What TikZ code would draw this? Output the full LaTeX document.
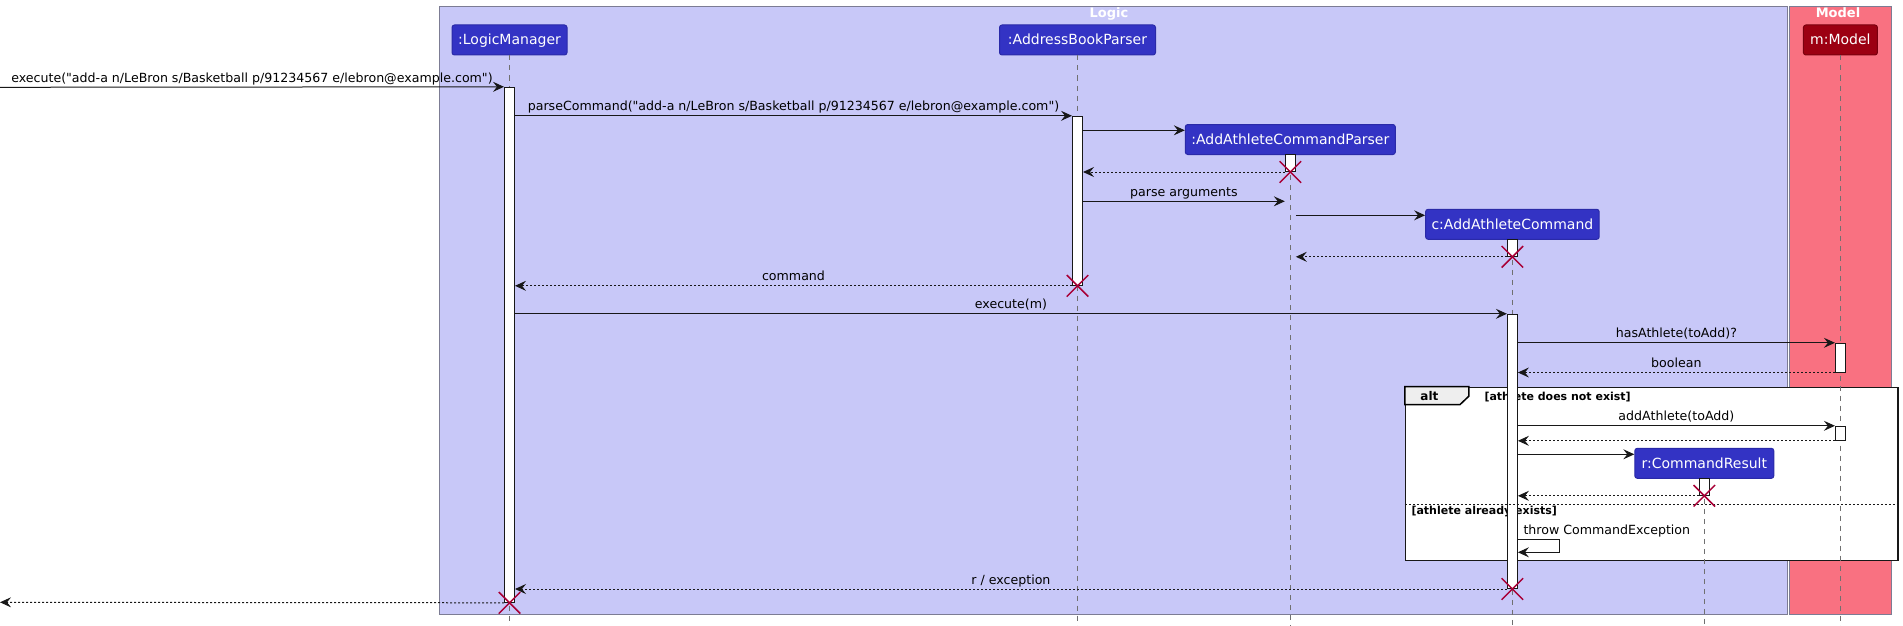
\documentclass[tikz,border=0pt]{standalone}
\usepackage{fontspec}
\setmainfont{DejaVu Sans}[Ligatures = TeXOff]
\usetikzlibrary{arrows.meta, shapes.misc}

\definecolor{logicbg}{HTML}{C8C8F8}
\definecolor{modelbg}{HTML}{F97181}
\definecolor{groupline}{HTML}{7C7C94}
\definecolor{partblue}{HTML}{3333C4}
\definecolor{partline}{HTML}{2A2AA8}
\definecolor{modelred}{HTML}{9C0012}
\definecolor{modelline}{HTML}{7A000E}
\definecolor{ink}{HTML}{181818}
\definecolor{lifegray}{HTML}{707070}
\definecolor{xred}{HTML}{A80036}
\definecolor{tabgray}{HTML}{EEEEEE}

\newcommand{\msgfont}{\fontsize{12.6}{15}\selectfont}
\newcommand{\partfont}{\fontsize{14}{16}\selectfont}

\begin{document}
\begin{tikzpicture}[x = 1pt, y = -1pt, line width = 1pt,
                    group/.style = {draw = groupline, inner sep = 0pt},
                    grouptitle/.style = {anchor = base, inner sep = 0pt, text = white, font = \bfseries\fontsize{13}{15}\selectfont},
                    part/.style = {draw = partline, fill = partblue, rounded corners = 2.5pt, text = white, font = \partfont,
                                   minimum height = 30pt, inner sep = 0pt, text height = 10pt, text depth = 0pt},
                    bar/.style = {draw = ink, fill = white, minimum width = 10pt, inner sep = 0pt},
                    life/.style = {draw = lifegray, line width = 0.8pt, dash pattern = on 5pt off 5pt},
                    msg/.style = {draw = ink, -{Stealth[length = 11pt, width = 10pt, inset = 4pt]}},
                    reply/.style = {msg, dash pattern = on 2pt off 2pt},
                    lbl/.style = {midway, anchor = base, yshift = 5pt, inner sep = 0pt, font = \msgfont},
                    destroy/.style = {cross out, draw = xred, line width = 1.5pt, minimum size = 20pt, inner sep = 0pt},
                    altframe/.style = {draw = ink, fill = white, line width = 1.5pt, inner sep = 0pt},
                    guard/.style = {anchor = base west, inner sep = 0pt, font = \bfseries\fontsize{11}{13}\selectfont},
                    sep/.style = {draw = ink, dash pattern = on 2pt off 2pt}]
  \useasboundingbox (0,0) rectangle (1903,626);

  \node [group, fill = logicbg, minimum width = 1348.5pt, minimum height = 607.7pt] (logic) at (1113.25,310.15) {};
  \node [group, fill = modelbg, minimum width = 102pt, minimum height = 607.7pt] (model) at (1840.3,310.15) {};
  \node [grouptitle] (logictitle) at (1109,18) {Logic};
  \node [grouptitle] (modeltitle) at (1838,17.5) {Model};

  \node [altframe, minimum width = 492.3pt, minimum height = 173.4pt] (alt) at (1651.65,474) {};
  \draw [fill = tabgray, line width = 1.5pt] (alt.north west) -- ++(64,0) -- ++(0,9.7) -- ++(-8.7,8.3) -- ++(-55.3,0) -- cycle;
  \node [anchor = base, inner sep = 0pt, font = \bfseries\fontsize{12}{14}\selectfont] (altname) at (1429.4,400.5) {alt};
  \node [guard] (guard1) at (1484,400.5) {[athlete does not exist]};
  \node [guard] (guard2) at (1411,514.5) {[athlete already exists]};

  \node [part, minimum width = 115pt] (LM) at (509.5,40) {:LogicManager};
  \node [part, minimum width = 156pt] (ABP) at (1077.5,40) {:AddressBookParser};
  \node [part, minimum width = 210pt] (AACP) at (1290.3,139.5) {:AddAthleteCommandParser};
  \node [part, minimum width = 173.6pt] (AAC) at (1512.4,224.3) {c:AddAthleteCommand};
  \node [part, minimum width = 139pt] (CR) at (1704.3,463.3) {r:CommandResult};
  \node [part, fill = modelred, draw = modelline, minimum width = 74pt] (M) at (1840.4,40) {m:Model};

  \coordinate (LMend) at (509.5,626);
  \coordinate (ABPend) at (1077.5,626);
  \coordinate (AACPend) at (1290.3,626);
  \coordinate (AACend) at (1512.4,626);
  \coordinate (CRend) at (1704.3,626);
  \coordinate (Mend) at (1840.4,626);

  \draw [life] (LM) -- (LMend);
  \draw [life] (ABP) -- (ABPend);
  \draw [life] (AACP) -- (AACPend);
  \draw [life] (AAC) -- (AACend);
  \draw [life] (CR) -- (CRend);
  \draw [life] (M) -- (Mend);

  \node [bar, minimum height = 515pt] (LMa) at (509.5,344.8) {};
  \node [bar, minimum height = 169pt] (ABPa) at (1077.5,200.8) {};
  \node [bar, minimum height = 17.2pt] (AACPa) at (1290.3,162.9) {};
  \node [bar, minimum height = 17pt] (AACa1) at (1512.4,247.8) {};
  \node [bar, minimum height = 274.2pt] (AACa2) at (1512.4,451.4) {};
  \node [bar, minimum height = 28.7pt] (Ma1) at (1840.4,357.65) {};
  \node [bar, minimum height = 14pt] (Ma2) at (1840.4,433.3) {};
  \node [bar, minimum height = 17pt] (CRa) at (1704.3,486.8) {};

  \coordinate (in) at (0,87.3);
  \coordinate (out) at (0,602.3);
  \coordinate (r3) at (0,130.3);
  \coordinate (r5) at (0,201.3);
  \coordinate (r6) at (0,215.3);
  \coordinate (r15) at (0,454.3);
  \coordinate (r17) at (0,504);
  \coordinate (r18) at (0,539.3);
  \coordinate (s18) at (1559.3,552.3);

  \draw [msg] (in) -- (LMa.north west) node [lbl] {execute("add-a n/LeBron s/Basketball p/91234567 e/lebron@example.com")};
  \draw [msg] (LMa.east |- ABPa.north) -- (ABPa.north west) node [lbl] {parseCommand("add-a n/LeBron s/Basketball p/91234567 e/lebron@example.com")};
  \draw [msg] (ABPa.east |- r3) -- (AACP.west |- r3);
  \draw [reply] (AACPa.south west) -- (ABPa.east |- AACPa.south);
  \draw [msg] (ABPa.east |- r5) -- (AACPa.west |- r5) node [lbl] {parse arguments};
  \draw [msg] (AACPa.east |- r6) -- (AAC.west |- r6);
  \draw [reply] (AACa1.south west) -- (AACPa.east |- AACa1.south);
  \draw [reply] (ABPa.south west) -- (LMa.east |- ABPa.south) node [lbl] {command};
  \draw [msg] (LMa.east |- AACa2.north) -- (AACa2.north west) node [lbl] {execute(m)};
  \draw [msg] (AACa2.east |- Ma1.north) -- (Ma1.north west) node [lbl] {hasAthlete(toAdd)?};
  \draw [reply] (Ma1.south west) -- (AACa2.east |- Ma1.south) node [lbl] {boolean};
  \draw [msg] (AACa2.east |- Ma2.north) -- (Ma2.north west) node [lbl] {addAthlete(toAdd)};
  \draw [reply] (Ma2.south west) -- (AACa2.east |- Ma2.south);
  \draw [msg] (AACa2.east |- r15) -- (CR.west |- r15);
  \draw [reply] (CRa.south west) -- (AACa2.east |- CRa.south);
  \draw [sep] (alt.west |- r17) -- (alt.east |- r17);
  \draw [msg] (AACa2.east |- r18) -| (s18) -- (AACa2.east |- s18);
  \node [anchor = base west, inner sep = 0pt, font = \msgfont] (throwlbl) at (1523,534.5) {throw CommandException};
  \draw [reply] (AACa2.south west) -- (LMa.east |- AACa2.south) node [lbl] {r / exception};
  \draw [reply] (LMa.south west) -- (out);

  \node [destroy] (xAACP) at (AACPa.south) {};
  \node [destroy] (xAAC) at (AACa1.south) {};
  \node [destroy] (xABP) at (ABPa.south) {};
  \node [destroy] (xCR) at (CRa.south) {};
  \node [destroy] (xAAC2) at (AACa2.south) {};
  \node [destroy] (xLM) at (LMa.south) {};
\end{tikzpicture}
\end{document}
